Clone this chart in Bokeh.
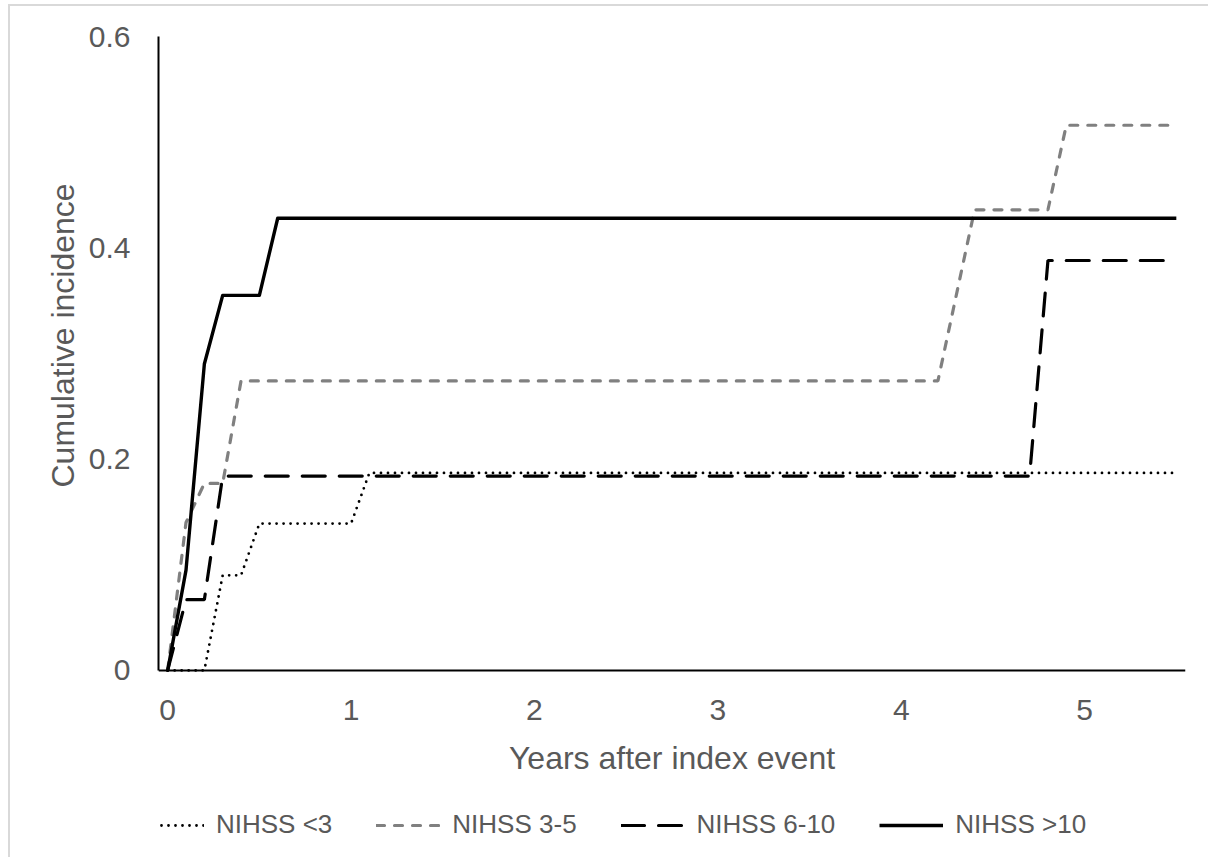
from bokeh.plotting import figure
from bokeh.models import Legend, LegendItem, FixedTicker, Range1d, Title
from bokeh.embed import file_html
from bokeh.resources import INLINE

# Cumulative incidence by NIHSS group (years after index event)
t_lt3 = [0, 0.2, 0.3, 0.4, 0.5, 1.0, 1.1, 5.5]
ci_lt3 = [0, 0, 0.09, 0.09, 0.139, 0.139, 0.187, 0.187]

t_3_5 = [0, 0.1, 0.2, 0.3, 0.4, 4.2, 4.4, 4.8, 4.9, 5.5]
ci_3_5 = [0, 0.14, 0.177, 0.177, 0.274, 0.274, 0.436, 0.436, 0.516, 0.516]

t_6_10 = [0, 0.1, 0.2, 0.3, 4.7, 4.8, 5.5]
ci_6_10 = [0, 0.067, 0.067, 0.184, 0.184, 0.388, 0.388]

t_gt10 = [0, 0.1, 0.2, 0.3, 0.5, 0.6, 5.5]
ci_gt10 = [0, 0.095, 0.29, 0.355, 0.355, 0.428, 0.428]

series_names = ["NIHSS <3", "NIHSS 3-5", "NIHSS 6-10", "NIHSS >10"]
x_ticks = [0, 1, 2, 3, 4, 5]
y_ticks = [0, 0.2, 0.4, 0.6]
y_tick_labels = ["0", "0.2", "0.4", "0.6"]

FONT = "Liberation Sans"
TEXT = "#595959"

# the frame reaches below y=0 so the horizontal axis, its title and the
# legend all sit inside it; the x axis is pinned at y=0
p = figure(
    width=1200, height=853,
    output_backend="svg", toolbar_location=None,
    x_range=Range1d(-0.05, 5.55), y_range=Range1d(-0.1685, 0.6),
    min_border_left=148, min_border_right=25,
    min_border_top=30, min_border_bottom=11,
)
p.styles = {
    "margin-left": "8px", "margin-top": "4px",
    "border-left": "2px solid #d9d9d9", "border-top": "2px solid #d9d9d9",
}
p.outline_line_color = None
p.grid.visible = False
p.background_fill_color = "white"
p.border_fill_color = "white"

r1 = p.line(t_lt3, ci_lt3, line_color="black", line_width=2.8,
            line_dash="0 7", line_cap="round")
r2 = p.line(t_3_5, ci_3_5, line_color="#808080", line_width=3.2,
            line_dash="8 10", line_cap="round")
r3 = p.line(t_6_10, ci_6_10, line_color="black", line_width=3.2,
            line_dash="23 14", line_cap="round")
r4 = p.line(t_gt10, ci_gt10, line_color="black", line_width=3.4,
            line_join="round")

for ax in (p.xaxis[0], p.yaxis[0]):
    ax.axis_line_color = "black"
    ax.axis_line_width = 2
    ax.major_tick_line_color = None
    ax.minor_tick_line_color = None
    ax.major_tick_out = 0
    ax.major_tick_in = 0
    ax.major_label_text_font = FONT
    ax.major_label_text_font_size = "30px"
    ax.major_label_text_color = TEXT
    ax.axis_label_text_font = FONT
    ax.axis_label_text_font_size = "32px"
    ax.axis_label_text_font_style = "normal"
    ax.axis_label_text_color = TEXT

p.xaxis.fixed_location = 0
p.xaxis.ticker = FixedTicker(ticks=x_ticks)
p.xaxis.major_label_standoff = 30
p.xaxis.axis_label = "Years after index event"
p.xaxis.axis_label_standoff = 16

p.yaxis.bounds = (0, 0.6)
p.yaxis.ticker = FixedTicker(ticks=y_ticks)
p.yaxis.major_label_overrides = {t: s for t, s in zip(y_ticks, y_tick_labels)}
p.yaxis.major_label_standoff = 28

y_title = Title(text="Cumulative incidence", align="left", offset=361,
                text_font=FONT, text_font_size="32px", text_font_style="normal",
                text_color=TEXT, standoff=10)
p.add_layout(y_title, "left")

legend = Legend(
    items=[LegendItem(label=n, renderers=[r]) for n, r in zip(series_names, [r1, r2, r3, r4])],
    orientation="horizontal",
    location=(-18, 8),
    glyph_width=64, glyph_height=20,
    label_standoff=12, spacing=44,
    padding=0, margin=0,
    border_line_color=None, background_fill_alpha=0,
    label_text_font=FONT, label_text_font_size="26px",
    label_text_color=TEXT,
)
p.add_layout(legend, "center")

open("out.html", "w").write(file_html(p, INLINE))
